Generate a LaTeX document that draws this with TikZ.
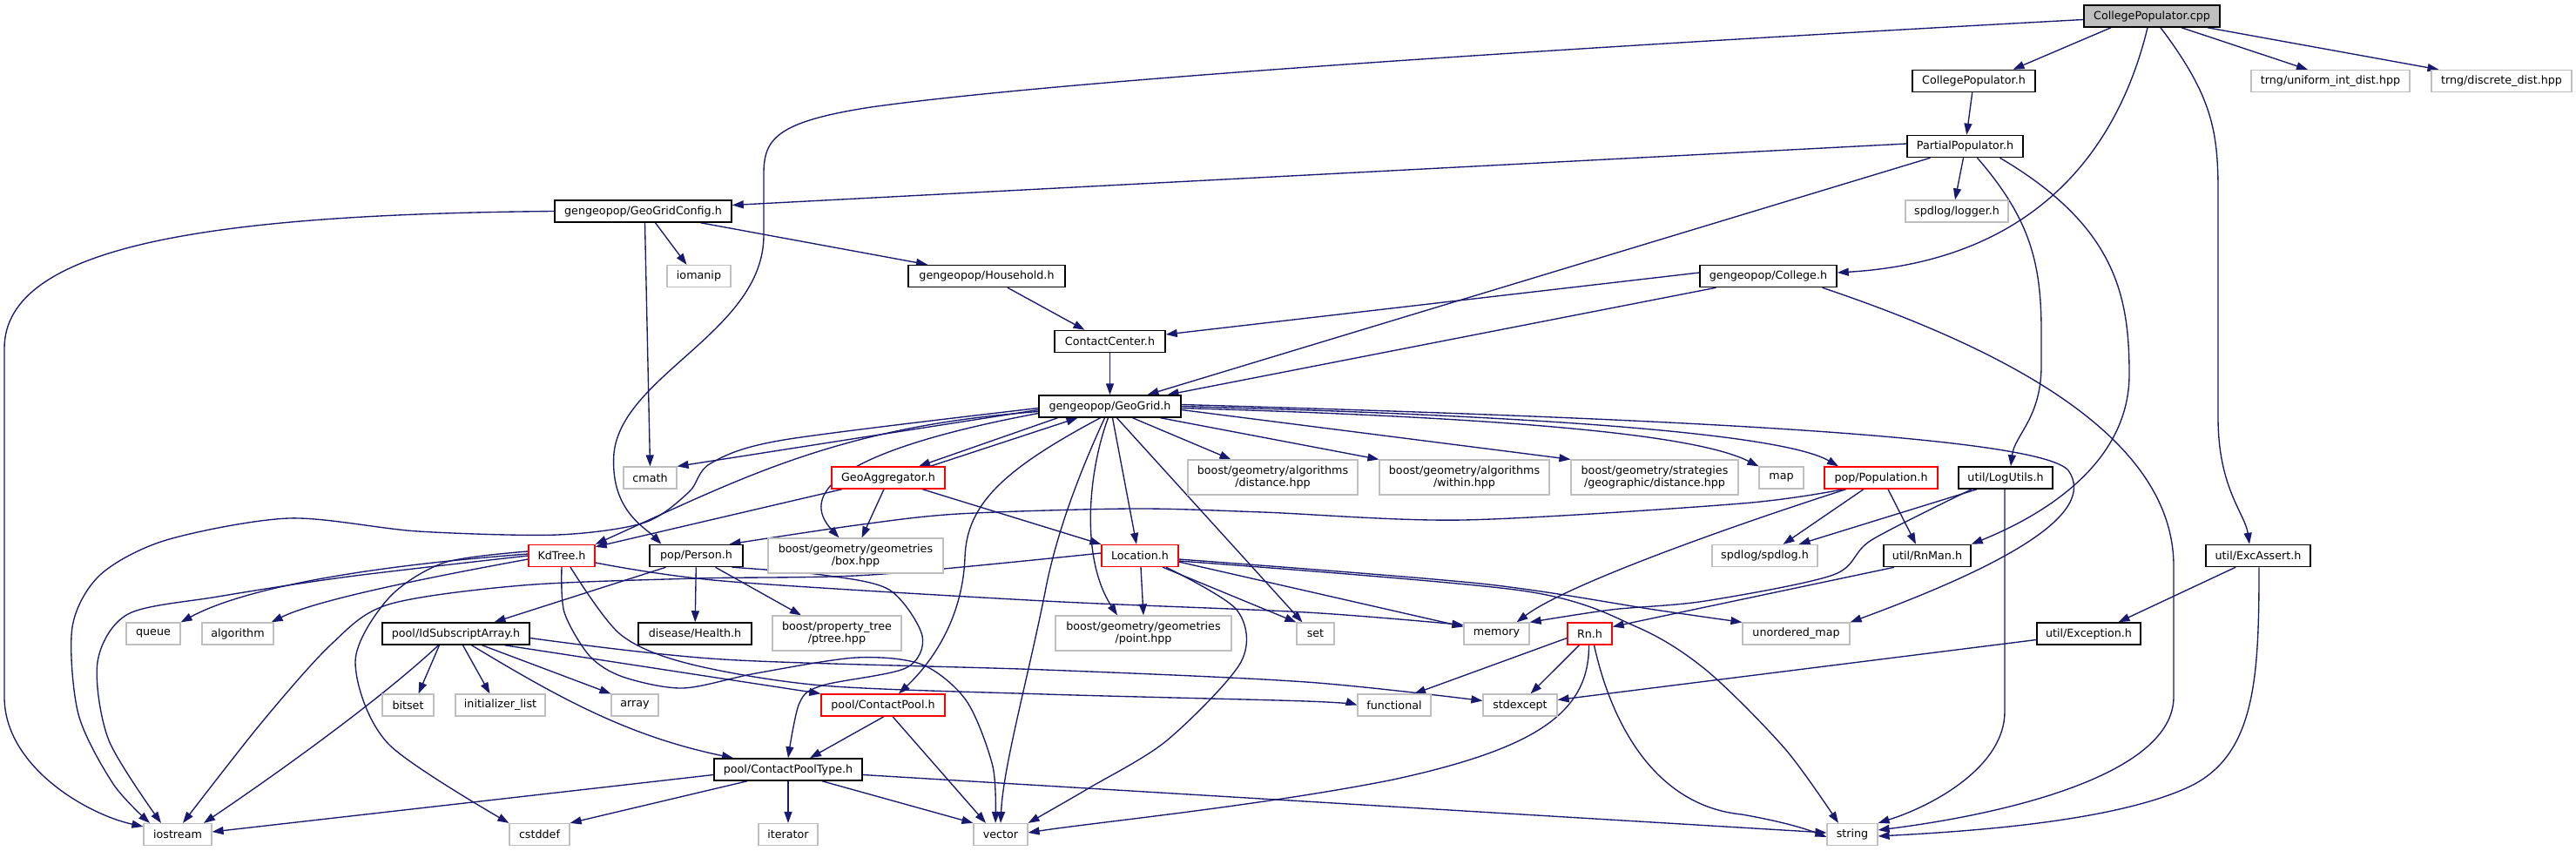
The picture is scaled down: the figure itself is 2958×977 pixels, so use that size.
\documentclass[tikz,border=0pt]{standalone}
\usepackage{fontspec}
\setmainfont{DejaVu Sans}
\usetikzlibrary{arrows.meta}
\definecolor{edgec}{HTML}{191970}
\definecolor{extgray}{HTML}{BFBFBF}
\definecolor{truncred}{HTML}{FF0000}
\pgfdeclarelayer{back}
\pgfdeclarelayer{edges}
\pgfsetlayers{back,edges,main}
\tikzset{
  nbox/.style={rectangle, fill=white, text=black, minimum height=25pt, inner xsep=3pt, inner ysep=2pt,
    align=center, font=\fontsize{12.7pt}{14.5pt}\selectfont},
  ext/.style={nbox, draw=extgray, line width=1.2pt},
  doc/.style={nbox, draw=black, line width=1.5pt},
  trunc/.style={nbox, draw=truncred, line width=1.3pt},
  rootnode/.style={nbox, draw=black, fill=extgray, line width=1.5pt},
  tall/.style={minimum height=40pt},
  e/.style={draw=edgec, line width=1.35pt, -{Triangle[length=13pt,width=9pt]}},
}
\begin{document}
\begin{tikzpicture}[x=1pt,y=-1pt]
\begin{pgfonlayer}{back}
\fill[white] (0,0) rectangle (2958,977);
\end{pgfonlayer}
\useasboundingbox (0,0) rectangle (2958,977);
% nodes
\node[rootnode, minimum width=156pt] (root) at (2471,18.5) {CollegePopulator.cpp};
\node[doc, minimum width=141pt] (cph) at (2266.5,93) {CollegePopulator.h};
\node[ext, minimum width=182pt] (trngu) at (2676,93) {trng/uniform\_int\_dist.hpp};
\node[ext, minimum width=161pt] (trngd) at (2872.5,93) {trng/discrete\_dist.hpp};
\node[doc, minimum width=133pt] (pp) at (2256.5,168) {PartialPopulator.h};
\node[doc, minimum width=203pt] (ggc) at (738.5,242.5) {gengeopop/GeoGridConfig.h};
\node[ext, minimum width=118pt] (logger) at (2247,242.5) {spdlog/logger.h};
\node[ext, minimum width=73pt] (iomanip) at (802.5,317) {iomanip};
\node[doc, minimum width=180pt] (hh) at (1133,317) {gengeopop/Household.h};
\node[doc, minimum width=157pt] (college) at (2030.5,317) {gengeopop/College.h};
\node[doc, minimum width=127pt] (cc) at (1274.5,392) {ContactCenter.h};
\node[doc, minimum width=163pt] (gg) at (1274.5,466.5) {gengeopop/GeoGrid.h};
\node[ext, minimum width=61pt] (cmath) at (746.5,548.5) {cmath};
\node[trunc, minimum width=130pt] (ga) at (1020,548.5) {GeoAggregator.h};
\node[ext, tall, minimum width=195pt] (dist) at (1461.5,548) {boost/geometry/algorithms\\/distance.hpp};
\node[ext, tall, minimum width=195pt] (within) at (1681.5,548) {boost/geometry/algorithms\\/within.hpp};
\node[ext, tall, minimum width=192pt] (geo) at (1900,548) {boost/geometry/strategies\\/geographic/distance.hpp};
\node[ext, minimum width=51pt] (map) at (2045.5,548.5) {map};
\node[trunc, minimum width=130pt] (pop) at (2160,548.5) {pop/Population.h};
\node[doc, minimum width=108pt] (log) at (2303,548.5) {util/LogUtils.h};
\node[trunc, minimum width=76pt] (kd) at (645,638) {KdTree.h};
\node[doc, minimum width=107pt] (person) at (799.5,638) {pop/Person.h};
\node[ext, tall, minimum width=201pt] (box) at (982.5,638) {boost/geometry/geometries\\/box.hpp};
\node[trunc, minimum width=88pt] (loc) at (1309,638) {Location.h};
\node[ext, minimum width=121pt] (spdlog) at (2026.5,638) {spdlog/spdlog.h};
\node[doc, minimum width=100pt] (rnman) at (2213,638) {util/RnMan.h};
\node[doc, minimum width=120pt] (exc) at (2593,638) {util/ExcAssert.h};
\node[ext, minimum width=62pt] (queue) at (176,727.5) {queue};
\node[ext, minimum width=82pt] (algorithm) at (273,727.5) {algorithm};
\node[doc, minimum width=169pt] (isa) at (523.5,727.5) {pool/IdSubscriptArray.h};
\node[doc, minimum width=130pt] (health) at (798,727.5) {disease/Health.h};
\node[ext, tall, minimum width=148pt] (ptree) at (961,727) {boost/property\_tree\\/ptree.hpp};
\node[ext, tall, minimum width=202pt] (point) at (1313,727) {boost/geometry/geometries\\/point.hpp};
\node[ext, minimum width=43pt] (set) at (1510.5,727.5) {set};
\node[ext, minimum width=75pt] (memory) at (1718.5,727.5) {memory};
\node[trunc, minimum width=51pt] (rn) at (1825.5,727.5) {Rn.h};
\node[ext, minimum width=123pt] (umap) at (2062.5,727.5) {unordered\_map};
\node[doc, minimum width=119pt] (exception) at (2398.5,727.5) {util/Exception.h};
\node[ext, minimum width=59pt] (bitset) at (468.5,809.5) {bitset};
\node[ext, minimum width=103pt] (initlist) at (574.5,809.5) {initializer\_list};
\node[ext, minimum width=54pt] (array) at (729,809.5) {array};
\node[trunc, minimum width=142pt] (cp) at (1014,809.5) {pool/ContactPool.h};
\node[ext, minimum width=84pt] (functional) at (1601,809.5) {functional};
\node[ext, minimum width=85pt] (stdexcept) at (1745.5,809.5) {stdexcept};
\node[doc, minimum width=170pt] (cpt) at (905,883.5) {pool/ContactPoolType.h};
\node[ext, minimum width=78pt] (iostream) at (204,958) {iostream};
\node[ext, minimum width=69pt] (cstddef) at (619.5,958) {cstddef};
\node[ext, minimum width=68pt] (iterator) at (905,958) {iterator};
\node[ext, minimum width=62pt] (vector) at (1149,958) {vector};
\node[ext, minimum width=58pt] (string) at (2127,958) {string};
% edges
\begin{pgfonlayer}{edges}
% root
\draw[e] ([xshift=-47pt]root.south) -- ([xshift=45pt]cph.north);
\draw[e] ([xshift=34pt]root.south) -- ([xshift=-26pt]trngu.north);
\draw[e] ([xshift=64pt]root.south) -- ([xshift=-72pt]trngd.north);
\draw[e] ([xshift=-5pt]root.south) .. controls (2430,180) and (2330,300) .. ([yshift=4pt]college.east);
\draw[e] ([xshift=10pt]root.south) .. controls (2540,110) and (2547,150) .. (2547,220) -- (2547,480) .. controls (2547,560) and (2578,590) .. ([xshift=-10pt]exc.north);
\draw[e] ([yshift=-4pt]root.west) .. controls (1700,60) and (1200,95) .. (1000,123) .. controls (890,140) and (877,160) .. (877,200) -- (877,270) .. controls (877,380) and (715,430) .. (705,520) .. controls (700,585) and (740,605) .. ([xshift=-40pt]person.north);
\draw[e] (cph) -- (pp);
% PartialPopulator
\draw[e] ([yshift=3pt]pp.west) -- ([yshift=7pt]ggc.east);
\draw[e] ([xshift=-40pt]pp.south) -- ([xshift=43pt]gg.north);
\draw[e] ([xshift=-2pt]pp.south) -- ([xshift=-2pt]logger.north);
\draw[e] ([xshift=14pt]pp.south) .. controls (2330,250) and (2344,300) .. (2344,380) -- (2344,420) .. controls (2344,480) and (2313,500) .. ([xshift=6pt]log.north);
\draw[e] ([xshift=40pt]pp.south) .. controls (2430,260) and (2445,340) .. (2445,430) .. controls (2445,530) and (2350,590) .. (rnman.north east);
% GeoGridConfig
\draw[e] (ggc.west) .. controls (250,246) and (5,280) .. (5,400) -- (5,800) .. controls (5,880) and (100,935) .. ([yshift=-4pt]iostream.north west);
\draw[e] ([xshift=14pt]ggc.south) -- ([xshift=-14pt]iomanip.north);
\draw[e] ([xshift=2pt]ggc.south) -- (cmath.north);
\draw[e] ([xshift=66pt]ggc.south) -- ([xshift=-68pt]hh.north);
\draw[e] ([xshift=24pt]hh.south) -- ([xshift=-29pt]cc.north);
\draw[e] (cc) -- (gg);
% College
\draw[e] ([yshift=4pt]college.west) -- ([yshift=8pt]cc.east);
\draw[e] ([xshift=-60pt]college.south) -- ([xshift=66pt]gg.north);
\draw[e] ([xshift=62pt]college.south) .. controls (2300,400) and (2496,500) .. (2496,650) -- (2496,800) .. controls (2496,890) and (2300,935) .. ([yshift=5pt]string.east);
% GeoGrid
\draw[e] ([yshift=-4pt]gg.west) -- (cmath.north east);
\draw[e] ([yshift=-6pt]gg.west) .. controls (960,490) and (850,550) .. (kd.north east);
\draw[e] plot[smooth] coordinates {([yshift=-2pt]gg.west) (900,505) (816,532) (791,565) (740,600) (640,614) (480,610) (332,595) (191,620) (115,660) (83,720) (90,820) (130,900) ([xshift=-32pt]iostream.north)};
\draw[e] ([xshift=-60pt]gg.south) -- ([xshift=35pt]ga.north);
\draw[e] ([xshift=48pt]ga.north) -- ([xshift=-37pt]gg.south);
\draw[e] ([yshift=-8pt]gg.west) .. controls (950,520) and (920,570) .. ([xshift=-19pt]box.north);
\draw[e] ([xshift=-11pt]gg.south) .. controls (1150,540) and (1110,580) .. (1108,640) .. controls (1105,720) and (1060,770) .. ([xshift=18pt]cp.north);
\draw[e] ([xshift=-6pt]gg.south) .. controls (1250,520) and (1215,600) .. (1200,680) .. controls (1180,780) and (1152,880) .. (vector.north);
\draw[e] ([xshift=-2pt]gg.south) .. controls (1250,540) and (1240,640) .. ([xshift=-30pt]point.north);
\draw[e] ([xshift=3pt]gg.south) -- ([xshift=-4pt]loc.north);
\draw[e] ([xshift=8pt]gg.south) -- ([xshift=-15pt]set.north);
\draw[e] ([xshift=26pt]gg.south) -- ([xshift=-48pt]dist.north);
\draw[e] ([xshift=58pt]gg.south) -- (within.north west);
\draw[e] ([yshift=-4pt]gg.east) -- (geo.north west);
\draw[e] ([yshift=-2pt]gg.east) .. controls (1750,480) and (1950,500) .. (map.north west);
\draw[e] (gg.east) .. controls (1800,478) and (2050,500) .. ([xshift=-49pt]pop.north);
\draw[e] ([yshift=2pt]gg.east) .. controls (1900,480) and (2340,500) .. (2375,540) .. controls (2410,590) and (2300,650) .. (umap.north east);
% GeoAggregator
\draw[e] ([xshift=-53pt]ga.south) -- ([yshift=-3pt]kd.north east);
\draw[e] ([xshift=-5pt]ga.south) -- ([xshift=7pt]box.north);
\draw[e] ([xshift=39pt]ga.south) -- (loc.north west);
% KdTree
\draw[e] ([yshift=2pt]kd.west) .. controls (420,650) and (280,675) .. (queue.north east);
\draw[e] ([yshift=-4pt]kd.west) .. controls (480,665) and (360,690) .. ([xshift=-3pt]algorithm.north east);
\draw[e] plot[smooth] coordinates {(kd.west) (400,662) (250,685) (147,705) (112,760) (125,850) ([xshift=-19pt]iostream.north)};
\draw[e] plot[smooth] coordinates {([yshift=5pt]kd.west) (510,646) (446,687) (408,760) (446,854) (cstddef.north west)};
\draw[e] plot[smooth] coordinates {([yshift=-8pt]kd.east) (830,667) (1200,690) (1500,703) ([yshift=10pt]memory.west)};
\draw[e] plot[smooth] coordinates {(kd.south) (648,703) (677,753) (715,777) (784,790) (868,773) (983,755) (1059,763) (1110,805) (1140,880) ([xshift=-6pt]vector.north)};
\draw[e] plot[smooth] coordinates {([xshift=10pt]kd.south) (712,728) (791,762) (944,787) (1200,797) (1500,805) (functional.west)};
% Person
\draw[e] ([xshift=-35pt]person.south) -- ([xshift=44pt]isa.north);
\draw[e] (person) -- (health);
\draw[e] ([xshift=22pt]person.south) -- ([xshift=-41pt]ptree.north);
\draw[e] plot[smooth] coordinates {([xshift=41pt]person.south) (944,660) (1021,677) (1059,730) (1040,767) (944,787) (918,807) (cpt.north)};
% IdSubscriptArray
\draw[e] ([xshift=-19pt]isa.south) -- ([xshift=12pt]bitset.north);
\draw[e] ([xshift=8pt]isa.south) -- ([xshift=-12pt]initlist.north);
\draw[e] ([xshift=30pt]isa.south) -- (array.north west);
\draw[e] ([xshift=-20pt]isa.south) .. controls (440,800) and (330,880) .. ([xshift=30pt]iostream.north);
\draw[e] ([xshift=18pt]isa.south) .. controls (640,800) and (720,845) .. ([xshift=-63pt]cpt.north);
\draw[e] ([xshift=56pt]isa.south) -- (cp.north west);
\draw[e] plot[smooth] coordinates {([yshift=-5pt]isa.east) (830,757) (1200,769) (1500,783) ([yshift=5pt]stdexcept.west)};
% ContactPool
\draw[e] ([xshift=1pt]cp.south) -- ([xshift=25pt]cpt.north);
\draw[e] ([xshift=11pt]cp.south) -- ([xshift=-17pt]vector.north);
% ContactPoolType
\draw[e] ([yshift=-6pt]cpt.west) -- ([yshift=3pt]iostream.east);
\draw[e] ([xshift=-47pt]cpt.south) -- (cstddef.north east);
\draw[e] (cpt) -- (iterator);
\draw[e] ([xshift=39pt]cpt.south) -- (vector.north west);
\draw[e] ([yshift=-6pt]cpt.east) -- ([yshift=2pt]string.west);
% Location
\draw[e] ([xshift=1pt]loc.south) -- (point.north);
\draw[e] ([xshift=26pt]loc.south) -- (set.north west);
\draw[e] ([yshift=-7pt]loc.east) -- ([yshift=8pt]memory.west);
\draw[e] plot[smooth] coordinates {([xshift=30pt]loc.south) (1420,700) (1425,760) (1340,850) (1250,905) (vector.north east)};
\draw[e] plot[smooth] coordinates {([yshift=-4pt]loc.east) (1700,670) (1900,700) (umap.north west)};
\draw[e] plot[smooth] coordinates {([yshift=-6pt]loc.east) (1747,678) (1880,720) (1960,770) (2050,860) ([xshift=-16pt]string.north)};
\draw[e] plot[smooth] coordinates {([yshift=3pt]loc.west) (1000,660) (800,664) (600,672) (446,694) (380,740) (300,830) ([xshift=6pt]iostream.north)};
% Population
\draw[e] plot[smooth] coordinates {([xshift=-43pt]pop.south) (2000,578) (1680,597) (1450,588) (1300,584) (1100,590) (983,603) ([xshift=38pt]person.north)};
\draw[e] ([xshift=-40pt]pop.south) .. controls (2000,600) and (1800,670) .. ([xshift=23pt]memory.north);
\draw[e] ([xshift=-20pt]pop.south) -- ([xshift=21pt]spdlog.north);
\draw[e] ([xshift=8pt]pop.south) -- ([xshift=-13pt]rnman.north);
% LogUtils
\draw[e] ([xshift=-33pt]log.south) -- ([xshift=39pt]spdlog.north);
\draw[e] plot[smooth] coordinates {([xshift=-39pt]log.south) (2149,620) (2105,660) (1958,690) (1850,700) (memory.north east)};
\draw[e] ([xshift=-1pt]log.south) -- (2302,817) .. controls (2302,880) and (2220,925) .. (string.north east);
% RnMan, ExcAssert, Exception
\draw[e] ([xshift=-38pt]rnman.south) -- ([yshift=8pt]rn.east);
\draw[e] ([xshift=-26pt]exc.south) -- ([xshift=34pt]exception.north);
\draw[e] ([xshift=1pt]exc.south) .. controls (2594,780) and (2590,870) .. (2510,905) .. controls (2420,945) and (2250,955) .. ([yshift=-2pt]string.east);
\draw[e] ([yshift=-7pt]exception.west) -- ([yshift=6pt]stdexcept.east);
% Rn
\draw[e] ([yshift=-5pt]rn.west) -- ([xshift=23pt]functional.north);
\draw[e] ([xshift=-12pt]rn.south) -- ([xshift=12pt]stdexcept.north);
\draw[e] ([xshift=-1pt]rn.south) .. controls (1825,820) and (1760,860) .. (1600,895) .. controls (1450,925) and (1250,945) .. ([yshift=2pt]vector.east);
\draw[e] ([xshift=5pt]rn.south) .. controls (1850,830) and (1900,925) .. (2000,935) .. controls (2040,942) and (2070,950) .. ([yshift=-3pt]string.west);
\end{pgfonlayer}
\end{tikzpicture}
\end{document}
